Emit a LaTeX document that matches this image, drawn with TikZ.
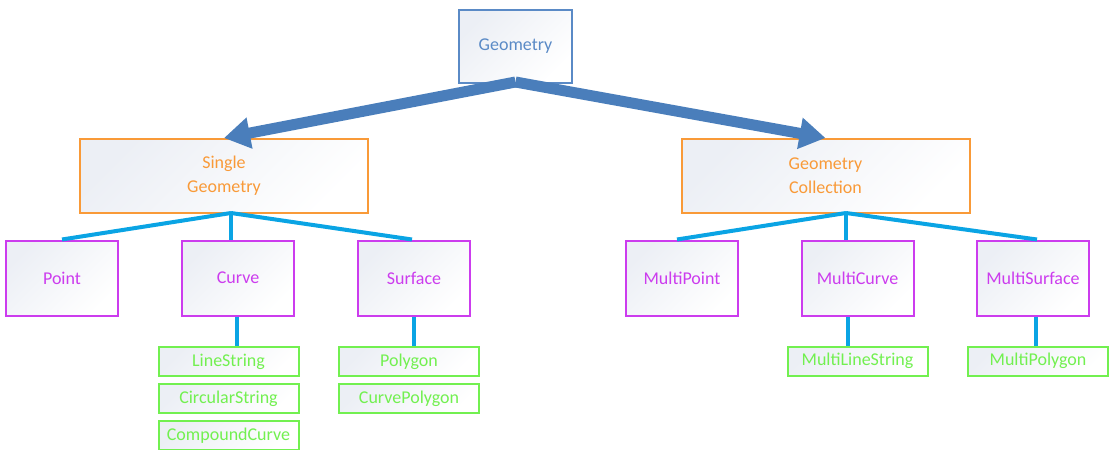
\documentclass[tikz,border=0pt]{standalone}
\usepackage{fontspec}
\setmainfont{Carlito}
\usetikzlibrary{arrows.meta}

\begin{document}
\begin{tikzpicture}[x=1pt,y=-1pt,
  box/.style={draw,line width=2pt,rectangle,inner sep=0pt,
    top color=boxtint,bottom color=white,shading angle=45,
    font=\fontsize{18}{24}\selectfont,align=center},
  rootbox/.style={box,draw=rootblue,text=rootblue,minimum width=113,minimum height=73},
  groupbox/.style={box,draw=grouporange,text=grouporange,minimum width=288,minimum height=74},
  kindbox/.style={box,draw=kindpink,text=kindpink,minimum width=112,minimum height=75},
  leafbox/.style={box,draw=leafgreen,text=leafgreen,minimum width=140,minimum height=29},
  link/.style={draw=linkcyan,line width=4pt},
  bigarrow/.style={draw=arrowblue,line width=11pt,-{Triangle[length=26pt,width=30pt]}}]
\definecolor{boxtint}{HTML}{ECEFF5}
\definecolor{rootblue}{HTML}{5A8AC6}
\definecolor{grouporange}{HTML}{F99A38}
\definecolor{kindpink}{HTML}{CC3CEE}
\definecolor{leafgreen}{HTML}{72F050}
\definecolor{linkcyan}{HTML}{0AA4E4}
\definecolor{arrowblue}{HTML}{4A7EBB}
\useasboundingbox (0,0) rectangle (1109,450);

% top of the tree
\node [rootbox] (geometry) at (515.5,46.5) {Geometry};
\node [groupbox] (single) at (224,176) {Single\\Geometry};
\node [groupbox] (collection) at (825.5,176) {Geometry\\Collection};
\coordinate (apex) at (515.5,82);
\draw [bigarrow] (apex) -- (single.north);
\draw [bigarrow] (apex) -- (collection.north);

% second row
\foreach \nm/\txt/\x in {point/Point/62,curve/Curve/238,surface/Surface/414,
    mpoint/MultiPoint/682,mcurve/MultiCurve/857.5,msurface/MultiSurface/1033}
  { \node [kindbox] (\nm) at (\x,278) {\txt}; }
% branch points under the two groups
\coordinate (sj) at (231,213);
\coordinate (cj) at (846,213);
\draw [link] (sj) -- (point.north);
\draw [link] (sj) -- (sj |- curve.north);
\draw [link] (sj) -- ([xshift=-2pt]surface.north);
\draw [link] (cj) -- ([xshift=-5pt]mpoint.north);
\draw [link] (cj) -- (cj |- mcurve.north);
\draw [link] (cj) -- ([xshift=4pt]msurface.north);

% leaves
\node [leafbox] (linestring) at (228.5,361.5) {LineString};
\node [leafbox] (circular) at (228.5,398.5) {CircularString};
\node [leafbox] (compound) at (228.5,435.5) {CompoundCurve};
\node [leafbox] (polygon) at (409,361.5) {Polygon};
\node [leafbox] (curvepoly) at (409,398.5) {CurvePolygon};
\node [leafbox] (mlinestring) at (857.5,361) {MultiLineString};
\node [leafbox] (mpolygon) at (1038,361) {MultiPolygon};
\draw [link] ([xshift=-1pt]curve.south) -- ([xshift=-1pt]curve.south |- linestring.north);
\draw [link] (surface.south) -- (surface.south |- polygon.north);
\draw [link] ([xshift=-10pt]mcurve.south) -- ([xshift=-10pt]mcurve.south |- mlinestring.north);
\draw [link] ([xshift=3pt]msurface.south) -- ([xshift=3pt]msurface.south |- mpolygon.north);
\end{tikzpicture}
\end{document}
